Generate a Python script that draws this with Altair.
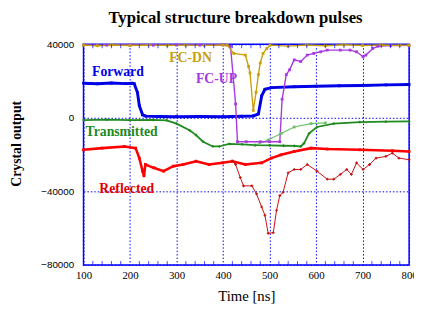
import altair as alt
import pandas as pd

# ---- data ----
fcdn_t = [100, 130, 160, 200, 240, 280, 320, 360, 400, 409, 423, 448, 455, 458, 465, 471, 476, 480, 486, 494, 501, 540, 580, 620, 660, 700, 740, 780, 800]
fcdn_v = [39500, 39200, 39600, 39300, 39600, 39400, 39500, 39400, 39600, 39500, 35000, 34100, 27900, 24400, 4000, 13900, 23500, 29800, 35000, 37700, 39500, 39000, 39600, 39200, 39700, 39300, 39600, 39400, 39500]

fcup_t = [100, 150, 200, 250, 300, 350, 400, 416, 427, 431, 450, 480, 500, 522, 527, 536, 543, 553, 567, 581, 595, 610, 624, 652, 673, 687, 701, 707, 722, 733, 760, 800]
fcup_v = [39600, 39500, 39600, 39500, 39600, 39500, 39600, 39000, 7500, -13000, -13000, -13000, -13000, -13000, 10100, 23500, 26100, 31500, 30600, 34100, 35000, 35900, 36800, 36800, 36800, 35900, 33200, 34100, 37700, 38900, 39300, 39400]

fwd_t = [100, 130, 160, 190, 205, 209, 216, 220, 227, 234, 260, 300, 350, 400, 440, 465, 476, 483, 490, 504, 553, 600, 650, 700, 750, 800]
fwd_v = [18800, 18500, 18900, 18600, 18800, 18500, 13700, 6600, 1600, 900, 700, 600, 700, 600, 800, 1000, 2100, 11900, 15500, 16400, 16900, 17200, 17400, 17600, 17900, 18100]

trn_t = [100, 150, 200, 250, 279, 300, 328, 342, 357, 378, 392, 413, 441, 469, 500, 530, 553, 567, 574, 585, 602, 638, 694, 750, 800]
trn_v = [-1200, -1000, -1300, -1100, -1400, -3200, -6800, -9400, -13000, -15600, -15600, -14200, -14400, -14900, -15000, -15200, -15300, -15600, -13900, -8500, -5000, -3200, -2300, -2100, -2000]

trn2_t = [469, 497, 525, 553, 589, 620]
trn2_v = [-14900, -12100, -8500, -5000, -3200, -2800]

ref_t = [100, 140, 188, 212, 220, 227, 230, 233, 251, 272, 293, 314, 342, 370, 399, 420, 448, 483, 504, 525, 553, 589, 624, 694, 764, 800]
ref_v = [-17400, -16500, -15600, -16500, -21900, -29000, -31600, -25400, -27200, -29000, -26300, -25400, -23600, -25400, -24500, -23600, -25400, -24500, -21900, -20100, -18300, -16500, -17000, -17400, -17900, -18300]

ref2_t = [420, 427, 437, 444, 462, 472, 483, 490, 497, 508, 515, 522, 529, 540, 553, 567, 581, 602, 624, 638, 652, 666, 676, 687, 701, 715, 729, 750, 764, 778, 800]
ref2_v = [-23600, -25400, -32500, -37000, -37000, -41400, -48500, -53000, -62800, -62500, -50300, -42300, -40500, -29900, -28100, -28100, -25400, -29000, -33400, -33400, -30800, -28100, -30800, -24500, -28100, -25400, -21900, -21000, -19200, -21900, -22800]

label_text = ["Forward", "FC-DN", "FC-UP", "Transmitted", "Reflected"]
label_t = [174, 330, 386, 182, 193]
label_v = [24800, 32500, 20800, -7500, -38900]

x_major = [100, 200, 300, 400, 500, 600, 700, 800]
x_minor = [v for v in range(120, 800, 20) if v % 100 != 0]
y_major = [40000, 20000, 0, -20000, -40000, -60000, -80000]
y_bottom, y_top = -80000, 40000

# ---- styles ----
series = ["Reflected", "Reflected 2", "Transmitted 2", "Transmitted", "Forward", "FC-UP", "FC-DN"]
colors = ["#ff0000", "#c81010", "#6cc06c", "#1f8a1f", "#0000e6", "#a838e0", "#c9a00a"]
shapes = ["square", "cross", "square", "cross", "square", "square", "square"]
widths = {"Reflected": 2.6, "Reflected 2": 1.0, "Transmitted 2": 1.2, "Transmitted": 1.8,
          "Forward": 3.0, "FC-UP": 1.4, "FC-DN": 1.4}
label_colors = ["#0000e6", "#c9a00a", "#a838e0", "#1f8a1f", "#e00000"]

rows = []
for name, ts, vs in [("Reflected", ref_t, ref_v), ("Reflected 2", ref2_t, ref2_v),
                     ("Transmitted 2", trn2_t, trn2_v), ("Transmitted", trn_t, trn_v),
                     ("Forward", fwd_t, fwd_v), ("FC-UP", fcup_t, fcup_v), ("FC-DN", fcdn_t, fcdn_v)]:
    for t, v in zip(ts, vs):
        rows.append({"t": t, "v": v, "s": name, "w": widths[name]})
df = pd.DataFrame(rows)
lab = pd.DataFrame({"label": label_text, "t": label_t, "v": label_v, "c": label_colors})
minor = pd.DataFrame({"t": x_minor})

W, H = 332, 225
serif = "Liberation Serif"
blue = "#0000ff"

xscale = alt.Scale(domain=[100, 800], nice=False, zero=False)
yscale = alt.Scale(domain=[y_bottom, y_top], nice=False, zero=False)
cscale = alt.Scale(domain=series, range=colors)
sscale = alt.Scale(domain=series, range=shapes)

x_main = alt.X("t:Q", scale=xscale, axis=alt.Axis(
    values=x_major, format="d", grid=True, gridColor=blue, gridDash=[1.5, 2],
    gridWidth=1, ticks=False, domain=False, labelFont=serif, labelFontSize=11,
    labelColor="black", labelPadding=5, labelFlush=False, labelOverlap=False,
    title="Time [ns]", titleFont=serif, titleFontSize=15, titleFontWeight="normal",
    titleColor="black", titlePadding=8))
y_main = alt.Y("v:Q", scale=yscale, axis=alt.Axis(
    values=y_major, format="d", grid=True, gridColor=blue, gridDash=[1.5, 2], gridWidth=1,
    ticks=False, domain=False, labelFont="Liberation Sans", labelFontSize=10,
    labelColor="black", labelPadding=10, labelFlush=False, labelOverlap=False,
    title="Crystal output", titleFont=serif, titleFontSize=14, titleFontWeight="bold",
    titleColor="black", titlePadding=18, titleY=101))

lines = alt.Chart(df).mark_line(interpolate="linear").encode(
    x=x_main, y=y_main,
    color=alt.Color("s:N", scale=cscale, legend=None),
    size=alt.Size("w:Q", scale=None),
    detail="s:N")

pts = alt.Chart(df).mark_point(filled=True, size=8, opacity=1).encode(
    x=alt.X("t:Q"),
    y=alt.Y("v:Q"),
    shape=alt.Shape("s:N", scale=sscale, legend=None),
    color=alt.Color("s:N", scale=cscale, legend=None))

texts = alt.Chart(lab).mark_text(font=serif, fontSize=14, fontWeight="bold").encode(
    x=alt.X("t:Q"),
    y=alt.Y("v:Q"),
    text="label:N",
    color=alt.Color("c:N", scale=None))

ticks_bottom = alt.Chart(minor).mark_tick(orient="vertical", size=4, thickness=1,
                                          color=blue, yOffset=-2).encode(
    x=alt.X("t:Q"), y=alt.datum(y_bottom))
ticks_top = alt.Chart(minor).mark_tick(orient="vertical", size=4, thickness=1,
                                       color=blue, yOffset=2).encode(
    x=alt.X("t:Q"), y=alt.datum(y_top))

chart = alt.layer(lines, pts, texts, ticks_bottom, ticks_top).properties(
    width=W, height=H,
    background="white",
    autosize=alt.AutoSizeParams(type="none"),
    padding={"left": 77, "top": 34, "right": 5, "bottom": 42},
    title=alt.TitleParams("Typical structure breakdown pulses", font=serif, fontSize=17,
                          fontWeight="bold", color="black", dx=-11, offset=13, frame="group"),
).configure_view(stroke=blue, strokeWidth=1.5)

chart.save("out.html", embed_options={"renderer": "svg", "actions": False})
